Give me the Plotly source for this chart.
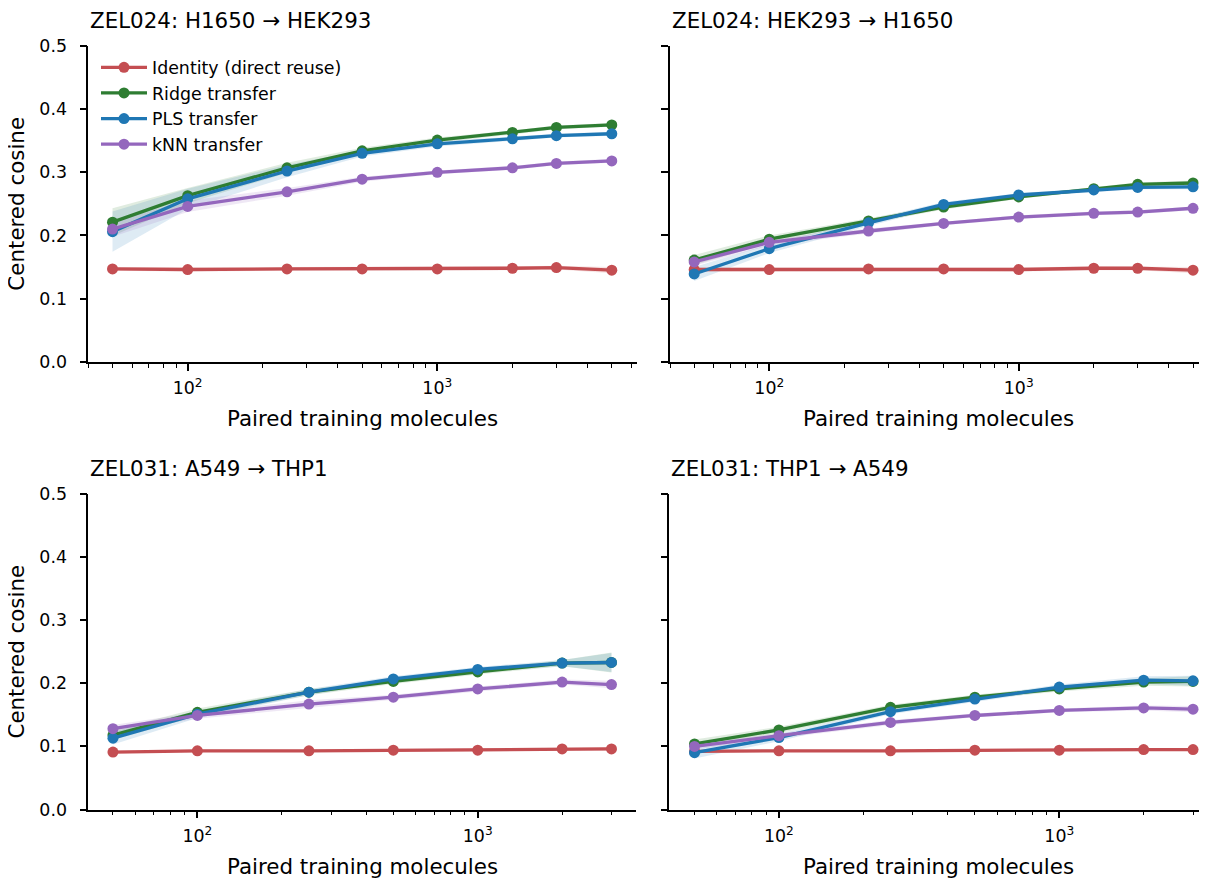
import plotly.graph_objects as go

# page has an 8px body margin; figure coords = window coords - 8
OFF = 8
W, H = 1207 - OFF, 880 - OFF

SIZES_TOP = [50, 100, 250, 500, 1000, 2000, 3000, 5000]
SIZES_BOTTOM = [50, 100, 250, 500, 1000, 2000, 3000]

METHODS = ["Identity (direct reuse)", "Ridge transfer", "PLS transfer", "kNN transfer"]
COLORS = ["#c44e52", "#2e7d32", "#1f77b4", "#9467bd"]
FILLS = ["rgba(196,78,82,0.15)", "rgba(46,125,50,0.15)", "rgba(31,119,180,0.15)", "rgba(148,103,189,0.15)"]

TITLES = ["ZEL024: H1650 → HEK293", "ZEL024: HEK293 → H1650",
          "ZEL031: A549 → THP1", "ZEL031: THP1 → A549"]

# Panel 1: ZEL024 H1650 -> HEK293
P1_IDENTITY = [0.147, 0.146, 0.147, 0.147, 0.147, 0.148, 0.149, 0.145]
P1_RIDGE = [0.221, 0.263, 0.307, 0.334, 0.351, 0.363, 0.371, 0.375]
P1_PLS = [0.206, 0.258, 0.302, 0.330, 0.345, 0.353, 0.358, 0.361]
P1_KNN = [0.210, 0.246, 0.269, 0.289, 0.300, 0.307, 0.314, 0.318]
P1_IDENTITY_CI = [0.003, 0.003, 0.003, 0.003, 0.003, 0.003, 0.003, 0.005]
P1_RIDGE_CI = [0.022, 0.012, 0.008, 0.005, 0.004, 0.003, 0.003, 0.003]
P1_PLS_CI = [0.032, 0.016, 0.010, 0.005, 0.004, 0.003, 0.003, 0.003]
P1_KNN_CI = [0.012, 0.009, 0.006, 0.004, 0.003, 0.003, 0.003, 0.003]

# Panel 2: ZEL024 HEK293 -> H1650
P2_IDENTITY = [0.146, 0.146, 0.147, 0.147, 0.146, 0.148, 0.148, 0.145]
P2_RIDGE = [0.161, 0.194, 0.223, 0.245, 0.261, 0.274, 0.281, 0.283]
P2_PLS = [0.139, 0.179, 0.220, 0.249, 0.264, 0.272, 0.276, 0.277]
P2_KNN = [0.158, 0.189, 0.207, 0.219, 0.229, 0.235, 0.237, 0.243]
P2_IDENTITY_CI = [0.003, 0.003, 0.003, 0.003, 0.003, 0.003, 0.003, 0.005]
P2_RIDGE_CI = [0.008, 0.006, 0.004, 0.004, 0.003, 0.003, 0.003, 0.004]
P2_PLS_CI = [0.011, 0.007, 0.005, 0.004, 0.003, 0.003, 0.003, 0.004]
P2_KNN_CI = [0.006, 0.005, 0.004, 0.003, 0.003, 0.003, 0.003, 0.003]

# Panel 3: ZEL031 A549 -> THP1
P3_IDENTITY = [0.091, 0.093, 0.093, 0.094, 0.094, 0.096, 0.096]
P3_RIDGE = [0.118, 0.154, 0.186, 0.203, 0.218, 0.232, 0.233]
P3_PLS = [0.113, 0.151, 0.186, 0.207, 0.222, 0.232, 0.233]
P3_KNN = [0.128, 0.149, 0.167, 0.178, 0.191, 0.202, 0.198]
P3_IDENTITY_CI = [0.002, 0.002, 0.002, 0.002, 0.002, 0.002, 0.003]
P3_RIDGE_CI = [0.008, 0.006, 0.005, 0.004, 0.004, 0.005, 0.016]
P3_PLS_CI = [0.010, 0.006, 0.005, 0.004, 0.004, 0.005, 0.015]
P3_KNN_CI = [0.006, 0.005, 0.006, 0.004, 0.004, 0.004, 0.006]

# Panel 4: ZEL031 THP1 -> A549
P4_IDENTITY = [0.092, 0.093, 0.093, 0.094, 0.094, 0.095, 0.095]
P4_RIDGE = [0.104, 0.126, 0.162, 0.178, 0.191, 0.202, 0.203]
P4_PLS = [0.090, 0.114, 0.155, 0.175, 0.194, 0.205, 0.204]
P4_KNN = [0.100, 0.117, 0.138, 0.149, 0.157, 0.161, 0.159]
P4_IDENTITY_CI = [0.002, 0.002, 0.002, 0.002, 0.002, 0.002, 0.002]
P4_RIDGE_CI = [0.007, 0.005, 0.004, 0.004, 0.004, 0.006, 0.008]
P4_PLS_CI = [0.009, 0.006, 0.004, 0.004, 0.004, 0.006, 0.008]
P4_KNN_CI = [0.005, 0.004, 0.004, 0.003, 0.003, 0.004, 0.005]

Y_TICKS = [0.0, 0.1, 0.2, 0.3, 0.4, 0.5]
X_MAJOR = [100, 1000]
X_MAJOR_TEXT = ["10<sup>2</sup>", "10<sup>3</sup>"]
X_MINOR = [40, 50, 60, 70, 80, 90, 200, 300, 400, 500, 600, 700, 800, 900,
           2000, 3000, 4000, 5000, 6000]

panels = [
    (SIZES_TOP, [P1_IDENTITY, P1_RIDGE, P1_PLS, P1_KNN],
     [P1_IDENTITY_CI, P1_RIDGE_CI, P1_PLS_CI, P1_KNN_CI]),
    (SIZES_TOP, [P2_IDENTITY, P2_RIDGE, P2_PLS, P2_KNN],
     [P2_IDENTITY_CI, P2_RIDGE_CI, P2_PLS_CI, P2_KNN_CI]),
    (SIZES_BOTTOM, [P3_IDENTITY, P3_RIDGE, P3_PLS, P3_KNN],
     [P3_IDENTITY_CI, P3_RIDGE_CI, P3_PLS_CI, P3_KNN_CI]),
    (SIZES_BOTTOM, [P4_IDENTITY, P4_RIDGE, P4_PLS, P4_KNN],
     [P4_IDENTITY_CI, P4_RIDGE_CI, P4_PLS_CI, P4_KNN_CI]),
]

# layout geometry (window pixels)
X_DOMAINS = [(88.3, 636.5), (670.0, 1207.0), (88.3, 636.4), (669.3, 1207.0)]
Y_DOMAINS = [(46.0, 361.7), (46.0, 361.7), (494.0, 809.5), (494.0, 809.5)]
X_RANGES = [(1.602, 3.798), (1.602, 3.755), (1.611, 3.566), (1.609, 3.527)]

FONT = "DejaVu Sans"
BIG = 21.4
SMALL = 17.4
fig = go.Figure()

for p, (xs, series, cis) in enumerate(panels):
    xa = "x" if p == 0 else f"x{p+1}"
    ya = "y" if p == 0 else f"y{p+1}"
    for m in range(4):
        up = [v + c for v, c in zip(series[m], cis[m])]
        lo = [v - c for v, c in zip(series[m], cis[m])]
        fig.add_trace(go.Scatter(
            x=list(xs) + list(xs)[::-1], y=up + lo[::-1], fill="toself",
            fillcolor=FILLS[m], line=dict(width=0), mode="lines",
            hoverinfo="skip", showlegend=False, xaxis=xa, yaxis=ya))
    for m in range(4):
        fig.add_trace(go.Scatter(
            x=xs, y=series[m], mode="lines+markers", name=METHODS[m],
            line=dict(color=COLORS[m], width=3.3),
            marker=dict(color=COLORS[m], size=11),
            showlegend=(p == 0), xaxis=xa, yaxis=ya))

layout = dict(
    width=W, height=H, margin=dict(l=0, r=0, t=0, b=0, autoexpand=False),
    paper_bgcolor="white", plot_bgcolor="white",
    font=dict(family=FONT, color="black", size=SMALL),
    showlegend=True,
    legend=dict(x=88 / W, y=1 - 41.5 / H, xanchor="left", yanchor="top",
                bgcolor="rgba(255,255,255,0)", font=dict(size=SMALL, family=FONT),
                tracegroupgap=0, itemwidth=46),
)

annotations = []
for p in range(4):
    suf = "" if p == 0 else str(p + 1)
    x0, x1 = X_DOMAINS[p]
    y0, y1 = Y_DOMAINS[p]
    x0, x1, y0, y1 = x0 - OFF, x1 - OFF, y0 - OFF, y1 - OFF
    layout["xaxis" + suf] = dict(
        type="log", range=list(X_RANGES[p]),
        domain=[x0 / W, min(1.0, x1 / W)], anchor="y" + suf,
        tickmode="array", tickvals=X_MAJOR, ticktext=X_MAJOR_TEXT,
        ticks="outside", ticklen=7, tickwidth=1.6, tickcolor="black",
        showline=True, linewidth=1.6, linecolor="black",
        showgrid=False, zeroline=False,
        tickfont=dict(size=SMALL, family=FONT, color="black"),
        ticklabelstandoff=3,
        minor=dict(tickmode="array", tickvals=X_MINOR, ticks="outside",
                   ticklen=4, tickwidth=1.2, tickcolor="black", showgrid=False),
    )
    layout["yaxis" + suf] = dict(
        range=[0, 0.5], domain=[1 - y1 / H, 1 - y0 / H], anchor="x" + suf,
        tickmode="array", tickvals=Y_TICKS, tickformat=".1f",
        ticks="outside", ticklen=7, tickwidth=1.6, tickcolor="black",
        showline=True, linewidth=1.6, linecolor="black",
        showgrid=False, zeroline=False, showticklabels=(p % 2 == 0),
        tickfont=dict(size=SMALL, family=FONT, color="black"),
        ticklabelstandoff=9,
    )
    xref = ("x" + suf) + " domain"
    yref = ("y" + suf) + " domain"
    annotations.append(dict(text=TITLES[p], xref=xref, yref=yref, x=0, y=1,
                            xanchor="left", yanchor="middle", yshift=25.5,
                            showarrow=False, font=dict(size=BIG, family=FONT, color="black")))
    annotations.append(dict(text="Paired training molecules", xref=xref, yref=yref,
                            x=0.5, y=0, xanchor="center", yanchor="middle", yshift=-57,
                            showarrow=False, font=dict(size=BIG, family=FONT, color="black")))
    if p % 2 == 0:
        annotations.append(dict(text="Centered cosine", xref=xref, yref=yref,
                                x=0, y=0.5, xanchor="center", yanchor="middle",
                                xshift=-71.5, textangle=-90, showarrow=False,
                                borderpad=0,
                                font=dict(size=BIG, family=FONT, color="black")))

layout["annotations"] = annotations
fig.update_layout(**layout)
fig.write_html("out.html")
